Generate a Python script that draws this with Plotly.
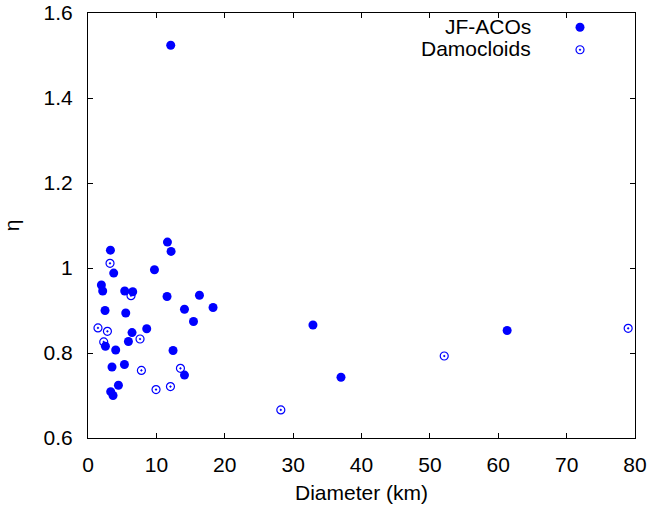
import plotly.graph_objects as go

# JF-ACOs (filled)
jf_diam = [12.1, 11.62, 12.15, 3.28, 3.76, 9.72, 1.96, 2.15, 5.37, 6.54, 11.56, 16.30,
           18.29, 14.11, 2.49, 5.52, 15.43, 8.59, 6.44, 5.91, 2.55, 4.05, 12.44, 3.51,
           5.33, 14.11, 4.45, 3.32, 3.66, 32.9, 37.0, 61.3]
jf_eta = [1.524, 1.061, 1.039, 1.042, 0.988, 0.996, 0.960, 0.946, 0.946, 0.944, 0.933,
          0.936, 0.907, 0.903, 0.900, 0.894, 0.874, 0.857, 0.848, 0.827, 0.816, 0.807,
          0.806, 0.767, 0.773, 0.748, 0.724, 0.709, 0.700, 0.866, 0.743, 0.853]

# Damocloids (open)
dam_diam = [3.22, 6.29, 1.46, 2.84, 2.30, 7.61, 7.81, 13.52, 9.95, 12.06, 28.2, 52.1, 79.0]
dam_eta = [1.011, 0.935, 0.859, 0.851, 0.826, 0.833, 0.759, 0.764, 0.714, 0.721,
           0.666, 0.793, 0.858]

x_ticks = [0, 10, 20, 30, 40, 50, 60, 70, 80]
y_ticks = [0.6, 0.8, 1.0, 1.2, 1.4, 1.6]
y_tick_labels = ["0.6", "0.8", "1", "1.2", "1.4", "1.6"]
series_names = ["JF-ACOs", "Damocloids"]

FONT = "Liberation Sans, Arial, Helvetica, sans-serif"
FS = 21
BLUE = "#0000ff"

jf_marker = dict(symbol="circle", size=9, color=BLUE, line=dict(width=0))
dam_marker = dict(symbol="circle-open-dot", size=8, color=BLUE, line=dict(width=1.2, color=BLUE))

fig = go.Figure()
fig.add_trace(go.Scatter(x=jf_diam, y=jf_eta, mode="markers", name=series_names[0],
                         legendgroup="jf", showlegend=False, marker=jf_marker))
fig.add_trace(go.Scatter(x=dam_diam, y=dam_eta, mode="markers", name=series_names[1],
                         legendgroup="dam", showlegend=False, marker=dam_marker))
# legend keys (gnuplot style: text on the left, key on the right)
fig.add_trace(go.Scatter(x=[None], y=[None], mode="markers", name="", legendgroup="jf",
                         showlegend=True, marker=jf_marker, hoverinfo="skip"))
fig.add_trace(go.Scatter(x=[None], y=[None], mode="markers", name="", legendgroup="dam",
                         showlegend=True, marker=dam_marker, hoverinfo="skip"))

L, R, T, B = 88, 14, 11, 70.5
W, H = 649, 509
pw, ph = W - L - R, H - T - B


def px_x(px):
    return (px - L) / pw


def px_y(py):
    return (H - B - py) / ph


for name, row_y in zip(series_names, [25, 47]):
    fig.add_annotation(text=name, xref="paper", yref="paper", x=px_x(533), y=px_y(row_y),
                       xanchor="right", yanchor="middle", showarrow=False,
                       font=dict(family=FONT, size=FS, color="black"))

axis_common = dict(
    showgrid=False, zeroline=False, showline=True, linecolor="black", linewidth=1,
    mirror="ticks", ticks="inside", ticklen=5, tickwidth=1, tickcolor="black",
    tickfont=dict(family=FONT, size=FS, color="black"), automargin=False,
)

fig.update_layout(
    width=W, height=H,
    margin=dict(l=L, r=R, t=T, b=B),
    paper_bgcolor="white", plot_bgcolor="white",
    font=dict(family=FONT, color="black"),
    showlegend=True,
    legend=dict(
        x=px_x(560), y=px_y(9), xanchor="left", yanchor="top",
        bgcolor="rgba(0,0,0,0)", font=dict(family=FONT, size=15, color="black"),
        tracegroupgap=0, itemsizing="trace", itemwidth=30,
    ),
    xaxis=dict(
        range=[0, 80], tickvals=x_ticks, ticklabelstandoff=8,
        title=dict(text="Diameter (km)", font=dict(family=FONT, size=FS), standoff=10),
        **axis_common,
    ),
    yaxis=dict(
        range=[0.6, 1.6], tickvals=y_ticks, ticktext=y_tick_labels, ticklabelstandoff=10,
        title=dict(text="η", font=dict(family=FONT, size=FS), standoff=20),
        **axis_common,
    ),
)

fig.write_html("out.html", config={"displayModeBar": False},
               post_script="document.body.style.margin='0';")
